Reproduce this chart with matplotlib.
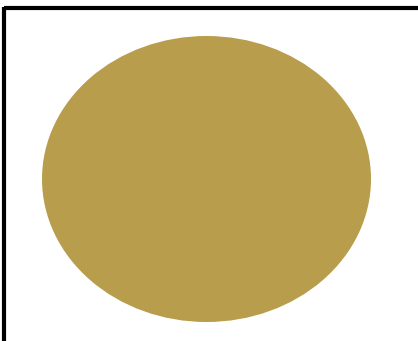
import matplotlib
matplotlib.use('Agg')
import matplotlib.pyplot as plt
from matplotlib.patches import Ellipse

# ellipse (pixel units)
center = [206.5, 179]
size = [329, 286]
fill = '#B89D4C'

fig = plt.figure(figsize=(4.18, 3.41), dpi=100)
ax = fig.add_axes([0, 0, 1, 1])
ax.set_xlim(0, 418)
ax.set_ylim(341, 0)
ax.axis('off')

ax.add_patch(Ellipse(center, size[0], size[1], color=fill, lw=0))

# frame: only top and left edges show
ax.plot([4, 418], [8, 8], color='black', lw=3, solid_capstyle='butt')
ax.plot([4, 4], [6.5, 341], color='black', lw=3, solid_capstyle='butt')

fig.savefig('out.png', dpi=100)
